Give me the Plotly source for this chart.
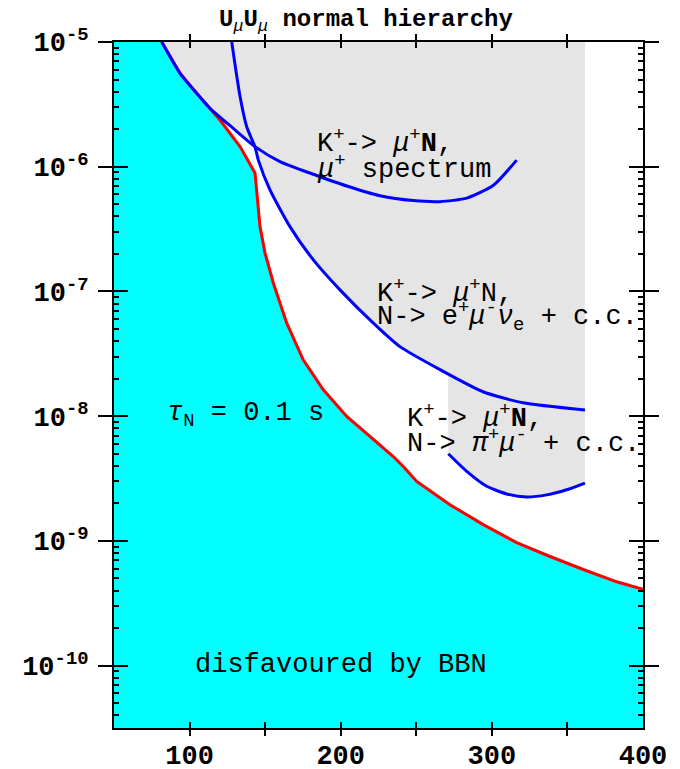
import numpy as np
import plotly.graph_objects as go

# ---- data (mass in MeV, U_mu U_mu) ----
# BBN bound, tau_N = 0.1 s (red line, cyan region below)
bbn_mass = [81.6, 93.7, 104.7, 113.5, 120.1, 133.4, 141.1, 143.3, 146.6, 149.9,
            155.4, 164.3, 175.2, 188.5, 204.0, 221.6, 234.8, 241.4, 250.3, 272.3,
            294.3, 316.4, 338.5, 360.5, 382.6, 400.0]
bbn_U = [1.00e-5, 5.61e-6, 3.88e-6, 2.94e-6, 2.37e-6, 1.45e-6, 1.00e-6, 8.9e-7, 3.31e-7, 2.04e-7,
         1.17e-7, 5.57e-8, 2.83e-8, 1.63e-8, 9.95e-9, 6.47e-9, 4.75e-9, 3.95e-9, 3.00e-9, 1.95e-9,
         1.35e-9, 9.7e-10, 7.5e-10, 5.9e-10, 4.7e-10, 4.1e-10]

# K+ -> mu+ N, mu+ spectrum
spec_mass = [81.6, 93.7, 104.7, 113.5, 128.9, 143.3, 159.8, 181.9, 204.0, 226.0,
             248.0, 265.7, 283.4, 301.0, 316.4]
spec_U = [1.0e-5, 5.61e-6, 3.88e-6, 2.94e-6, 2.03e-6, 1.45e-6, 1.10e-6, 8.7e-7, 7.0e-7, 5.85e-7,
          5.35e-7, 5.25e-7, 5.6e-7, 7.1e-7, 1.13e-6]

# K+ -> mu+ N, N -> e+ mu- nu_e + c.c.
emu_mass = [127.9, 133.4, 137.8, 143.3, 145.5, 153.2, 166.4, 181.9, 199.5, 221.6,
            239.2, 265.7, 294.1, 320.6, 361.6]
emu_U = [1.0e-5, 3.65e-6, 2.09e-6, 1.44e-6, 1.13e-6, 6.52e-7, 3.31e-7, 1.79e-7, 1.03e-7, 5.57e-8,
         3.61e-8, 2.36e-8, 1.57e-8, 1.28e-8, 1.12e-8]

# K+ -> mu+ N, N -> pi+ mu- + c.c.
pimu_mass = [271.2, 283.4, 296.6, 309.8, 323.1, 336.3, 349.5, 361.6]
pimu_U = [5.0e-9, 3.61e-9, 2.74e-9, 2.38e-9, 2.25e-9, 2.34e-9, 2.57e-9, 2.91e-9]

x_ticks = [100, 150, 200, 250, 300, 350, 400]
x_ticktext = ["100", "", "200", "", "300", "", "400"]
y_ticks = [1e-10, 1e-9, 1e-8, 1e-7, 1e-6, 1e-5]
y_ticktext = ["10<sup>-10</sup>", "10<sup>-9</sup>", "10<sup>-8</sup>",
              "10<sup>-7</sup>", "10<sup>-6</sup>", "10<sup>-5</sup>"]

X_RANGE = [50, 400]
Y_RANGE = [-10.5, -5]
TOP = 10 ** Y_RANGE[1]
BOTTOM = 10 ** Y_RANGE[0]

# ---- derived regions ----
# excluded (grey) region: above the lowest of the three blue curves, up to the last mass point
grid = np.linspace(spec_mass[0], pimu_mass[-1], 1401)
def logcurve(m, U):
    m = np.asarray(m, dtype=float); lu = np.log10(U)
    out = np.interp(grid, m, lu)
    out[(grid < m[0] - 1e-9) | (grid > m[-1] + 1e-9)] = np.inf
    return out
lower = np.minimum.reduce([logcurve(spec_mass, spec_U), logcurve(emu_mass, emu_U),
                           logcurve(pimu_mass, pimu_U)])
ok = np.isfinite(lower)
gx = grid[ok]
gl = lower[ok]
grey_x = [float(v) for v in gx] + [float(gx[-1]), float(gx[0])]
grey_y = [float(10 ** v) for v in gl] + [TOP, TOP]

# BBN (cyan) region: below the red line
cyan_x = [X_RANGE[0]] + bbn_mass + [X_RANGE[1], X_RANGE[0]]
cyan_y = [TOP] + bbn_U + [BOTTOM, BOTTOM]

fig = go.Figure()
fig.add_trace(go.Scatter(x=grey_x, y=grey_y, fill="toself", fillcolor="#e5e5e5",
                         mode="lines", line=dict(width=0, color="#e5e5e5"),
                         hoverinfo="skip", showlegend=False))
fig.add_trace(go.Scatter(x=cyan_x, y=cyan_y, fill="toself", fillcolor="#00ffff",
                         mode="lines", line=dict(width=0, color="#00ffff"),
                         hoverinfo="skip", showlegend=False))
fig.add_trace(go.Scatter(x=bbn_mass, y=bbn_U, mode="lines",
                         line=dict(color="#ff0000", width=3), showlegend=False))
for m, U in [(spec_mass, spec_U), (emu_mass, emu_U), (pimu_mass, pimu_U)]:
    fig.add_trace(go.Scatter(x=m, y=U, mode="lines", yaxis="y2",
                             line=dict(color="#0000ff", width=3, shape="spline", smoothing=0.6),
                             showlegend=False))

FONT = "Liberation Mono, Courier New, monospace"
tickfont = dict(family=FONT, size=27, color="black", weight="bold")

minor_vals = [k * 10.0 ** e for e in range(-11, -4) for k in range(2, 10)]

fig.update_layout(
    width=680, height=769,
    margin=dict(l=114, r=37, t=42, b=41, autoexpand=False),
    paper_bgcolor="white", plot_bgcolor="white",
    title=dict(text="<b>U</b><sub><i>μ</i></sub><b>U</b><sub><i>μ</i></sub><b> normal hierarchy</b>",
               x=366 / 680, xanchor="center", y=1 - 18 / 769, yanchor="middle",
               xref="container", yref="container", automargin=False,
               font=dict(family=FONT, size=24, color="black")),
    xaxis=dict(range=X_RANGE, tickmode="array", tickvals=x_ticks, ticktext=x_ticktext,
               ticks="inside", ticklen=6, tickwidth=2, tickcolor="black", ticklabelstandoff=2,
               showline=True, linewidth=2, linecolor="black", mirror="allticks",
               showgrid=False, zeroline=False, tickfont=tickfont, automargin=False),
    yaxis=dict(type="log", range=Y_RANGE, tickmode="array", tickvals=y_ticks, ticktext=y_ticktext,
               ticks="outside", ticklen=14, tickwidth=2, tickcolor="black", ticklabelstandoff=4,
               showline=True, linewidth=2, linecolor="black", mirror="allticks",
               showgrid=False, zeroline=False, tickfont=tickfont, automargin=False),
    yaxis2=dict(type="log", range=Y_RANGE, overlaying="y", side="left",
                tickmode="array", tickvals=y_ticks, showticklabels=False,
                ticks="inside", ticklen=14, tickwidth=2, tickcolor="black",
                minor=dict(tickmode="array", tickvals=minor_vals, ticks="inside", ticklen=5,
                           tickwidth=2, tickcolor="black", showgrid=False),
                showline=True, linewidth=2, linecolor="black", mirror="allticks",
                showgrid=False, zeroline=False, automargin=False),
)

def px(xp, yp):
    return (xp - 114) / 529, (728 - yp) / 686

afont = dict(family=FONT, size=27, color="black")
labels = [
    (315, 141, "K<sup>+</sup>-> <i>μ</i><sup>+</sup><b>N</b>,"),
    (315, 167, "<i>μ</i><sup>+</sup> spectrum"),
    (375, 291, "K<sup>+</sup>-> <i>μ</i><sup>+</sup>N,"),
    (375, 316, "N-> e<sup>+</sup><i>μ</i><sup>-</sup><i>ν</i><sub>e</sub> + c.c."),
    (405, 416, "K<sup>+</sup>-> <i>μ</i><sup>+</sup><b>N</b>,"),
    (405, 441, "N-> <i>π</i><sup>+</sup><i>μ</i><sup>-</sup> + c.c."),
    (165, 415, "<i>τ</i><sub>N</sub> = 0.1 s"),
    (193, 665, "disfavoured by BBN"),
]
for xp, yp, t in labels:
    ax, ay = px(xp, yp)
    fig.add_annotation(x=ax, y=ay, xref="paper", yref="paper", text=t, showarrow=False,
                       xanchor="left", yanchor="middle", font=afont)

fig.write_html("out.html")
